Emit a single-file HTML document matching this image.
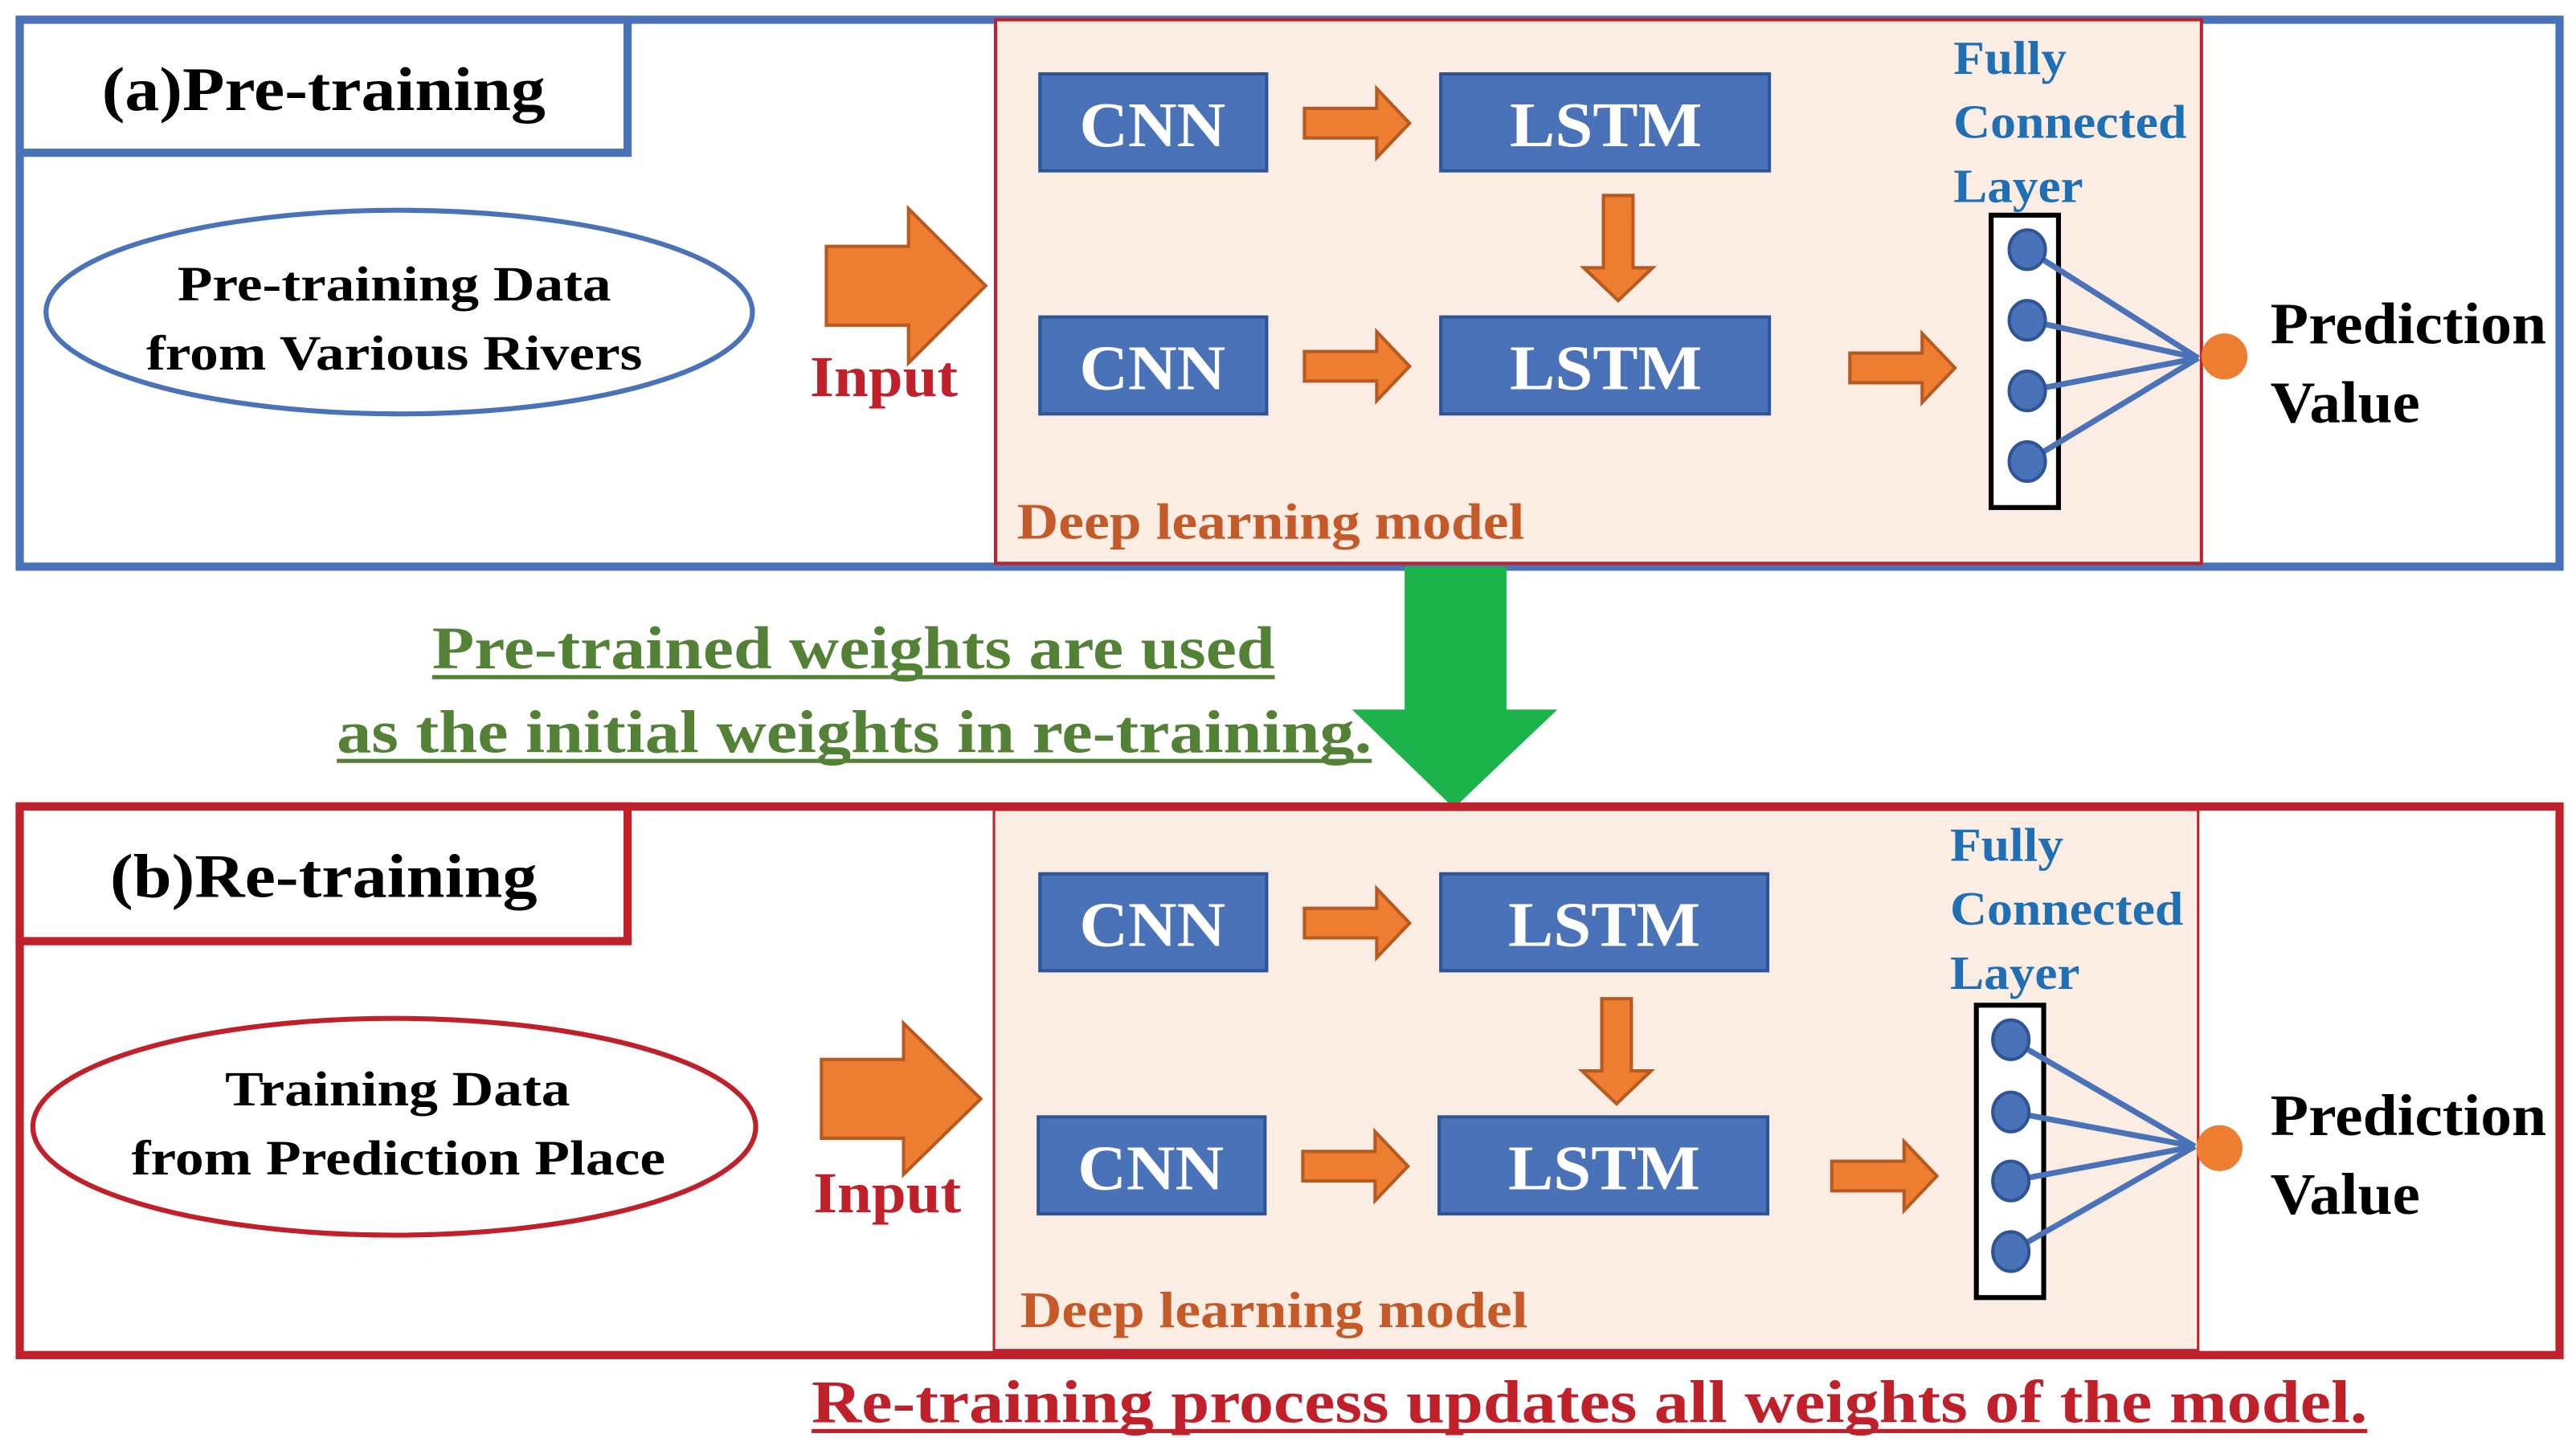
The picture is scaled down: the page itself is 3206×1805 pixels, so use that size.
<!DOCTYPE html>
<html><head><meta charset="utf-8"><style>
html,body{margin:0;padding:0;background:#fff}
svg{display:block}
text{font-family:"Liberation Serif",serif;font-weight:bold}
</style></head><body>
<svg width="3206" height="1805" viewBox="0 0 1568 882.8" xmlns="http://www.w3.org/2000/svg">
<defs>
<g id="rarrow"><polygon points="0,-9 44,-9 44,-21 64,0 44,21 44,9 0,9" fill="#ed7d31" stroke="#b85a20" stroke-width="2"/></g>
</defs>
<!-- ===== TOP ===== -->
<rect x="12" y="12" width="1546" height="333" fill="#fff" stroke="#4a72b8" stroke-width="5"/>
<rect x="606" y="12" width="734" height="331" fill="#fbede3" stroke="#c0202a" stroke-width="2"/>
<rect x="12" y="12" width="370" height="81" fill="#fff" stroke="#4a72b8" stroke-width="5"/>
<text x="62" y="67" font-size="38" textLength="270" lengthAdjust="spacingAndGlyphs">(a)Pre-training</text>
<ellipse cx="243" cy="190" rx="215" ry="62" fill="#fff" stroke="#4a72b8" stroke-width="3"/>
<text x="108" y="183" font-size="30" textLength="264" lengthAdjust="spacingAndGlyphs">Pre-training Data</text>
<text x="89" y="225" font-size="30" textLength="302" lengthAdjust="spacingAndGlyphs">from Various Rivers</text>
<polygon points="503,150 553,150 553,127 600,174 553,221 553,198 503,198" fill="#ed7d31" stroke="#b85a20" stroke-width="2"/>
<text x="493" y="241" font-size="35" fill="#c0202a" textLength="90" lengthAdjust="spacingAndGlyphs">Input</text>
<rect x="633" y="45" width="138" height="59" fill="#4a72b8" stroke="#2f5496" stroke-width="2"/>
<text x="657" y="89" font-size="39" fill="#fff" textLength="89" lengthAdjust="spacingAndGlyphs">CNN</text>
<rect x="633" y="193" width="138" height="59" fill="#4a72b8" stroke="#2f5496" stroke-width="2"/>
<text x="657" y="237" font-size="39" fill="#fff" textLength="89" lengthAdjust="spacingAndGlyphs">CNN</text>
<rect x="877" y="45" width="200" height="59" fill="#4a72b8" stroke="#2f5496" stroke-width="2"/>
<text x="919" y="89" font-size="39" fill="#fff" textLength="117" lengthAdjust="spacingAndGlyphs">LSTM</text>
<rect x="877" y="193" width="200" height="59" fill="#4a72b8" stroke="#2f5496" stroke-width="2"/>
<text x="919" y="237" font-size="39" fill="#fff" textLength="117" lengthAdjust="spacingAndGlyphs">LSTM</text>
<use href="#rarrow" transform="translate(794,75)"/>
<use href="#rarrow" transform="translate(794,223)"/>
<use href="#rarrow" transform="translate(1126,224)"/>
<use href="#rarrow" transform="translate(985,119) rotate(90)"/>
<text x="1189" y="45" font-size="29" fill="#1f6fb5" textLength="69" lengthAdjust="spacingAndGlyphs">Fully</text>
<text x="1189" y="84" font-size="29" fill="#1f6fb5" textLength="142" lengthAdjust="spacingAndGlyphs">Connected</text>
<text x="1189" y="123" font-size="29" fill="#1f6fb5" textLength="79" lengthAdjust="spacingAndGlyphs">Layer</text>
<rect x="1212" y="131" width="41" height="178" fill="#fff" stroke="#000" stroke-width="3"/>
<g stroke="#4a72b8" stroke-width="3.5"><line x1="1234" y1="152" x2="1338" y2="218"/><line x1="1234" y1="195" x2="1338" y2="218"/><line x1="1234" y1="238" x2="1338" y2="218"/><line x1="1234" y1="281" x2="1338" y2="218"/></g>
<g fill="#4a72b8" stroke="#2f5496" stroke-width="2"><ellipse cx="1234" cy="152" rx="11" ry="12"/><ellipse cx="1234" cy="195" rx="11" ry="12"/><ellipse cx="1234" cy="238" rx="11" ry="12"/><ellipse cx="1234" cy="281" rx="11" ry="12"/></g>
<ellipse cx="1354" cy="217" rx="14" ry="14" fill="#ed7d31"/>
<text x="1382" y="209" font-size="36" textLength="168" lengthAdjust="spacingAndGlyphs">Prediction</text>
<text x="1382" y="257" font-size="36" textLength="91" lengthAdjust="spacingAndGlyphs">Value</text>
<text x="619" y="328" font-size="31" fill="#c55a28" textLength="309" lengthAdjust="spacingAndGlyphs">Deep learning model</text>
<!-- green arrow -->
<polygon points="855,345 917,345 917,432 948,432 885,492 823,432 855,432" fill="#1db34b"/>
<g fill="#538135" font-size="37">
<text x="263" y="407" textLength="513" lengthAdjust="spacingAndGlyphs">Pre-trained weights are used</text>
<text x="205" y="458" textLength="630" lengthAdjust="spacingAndGlyphs">as the initial weights in re-training.</text>
</g>
<rect x="263" y="411" width="513" height="2.5" fill="#538135"/>
<rect x="205" y="462" width="630" height="2.5" fill="#538135"/>
<!-- ===== BOTTOM ===== -->
<rect x="12" y="491" width="1546" height="334" fill="none" stroke="#c0202a" stroke-width="5"/>
<rect x="605" y="493" width="733" height="329" fill="#fbede3" stroke="#c0202a" stroke-width="1.5"/>
<rect x="12" y="491" width="370" height="82" fill="#fff" stroke="#c0202a" stroke-width="5"/>
<text x="67" y="546" font-size="38" textLength="260" lengthAdjust="spacingAndGlyphs">(b)Re-training</text>
<ellipse cx="240" cy="686" rx="220" ry="66" fill="#fff" stroke="#c0202a" stroke-width="3"/>
<text x="137" y="673" font-size="30" textLength="210" lengthAdjust="spacingAndGlyphs">Training Data</text>
<text x="80" y="715" font-size="30" textLength="325" lengthAdjust="spacingAndGlyphs">from Prediction Place</text>
<polygon points="500,645 550,645 550,623 597,669 550,715 550,693 500,693" fill="#ed7d31" stroke="#b85a20" stroke-width="2"/>
<text x="495" y="738" font-size="35" fill="#c0202a" textLength="90" lengthAdjust="spacingAndGlyphs">Input</text>
<rect x="633" y="532" width="138" height="59" fill="#4a72b8" stroke="#2f5496" stroke-width="2"/>
<text x="657" y="576" font-size="39" fill="#fff" textLength="89" lengthAdjust="spacingAndGlyphs">CNN</text>
<rect x="632" y="680" width="138" height="59" fill="#4a72b8" stroke="#2f5496" stroke-width="2"/>
<text x="656" y="724" font-size="39" fill="#fff" textLength="89" lengthAdjust="spacingAndGlyphs">CNN</text>
<rect x="877" y="532" width="199" height="59" fill="#4a72b8" stroke="#2f5496" stroke-width="2"/>
<text x="918" y="576" font-size="39" fill="#fff" textLength="117" lengthAdjust="spacingAndGlyphs">LSTM</text>
<rect x="876" y="680" width="200" height="59" fill="#4a72b8" stroke="#2f5496" stroke-width="2"/>
<text x="918" y="724" font-size="39" fill="#fff" textLength="117" lengthAdjust="spacingAndGlyphs">LSTM</text>
<use href="#rarrow" transform="translate(794,562)"/>
<use href="#rarrow" transform="translate(793,710)"/>
<use href="#rarrow" transform="translate(1115,716)"/>
<use href="#rarrow" transform="translate(984,608) rotate(90)"/>
<text x="1187" y="524" font-size="29" fill="#1f6fb5" textLength="69" lengthAdjust="spacingAndGlyphs">Fully</text>
<text x="1187" y="563" font-size="29" fill="#1f6fb5" textLength="142" lengthAdjust="spacingAndGlyphs">Connected</text>
<text x="1187" y="602" font-size="29" fill="#1f6fb5" textLength="79" lengthAdjust="spacingAndGlyphs">Layer</text>
<rect x="1203" y="612" width="41" height="178" fill="#fff" stroke="#000" stroke-width="3"/>
<g stroke="#4a72b8" stroke-width="3.5"><line x1="1224" y1="633" x2="1336" y2="698"/><line x1="1224" y1="677" x2="1336" y2="698"/><line x1="1224" y1="719" x2="1336" y2="698"/><line x1="1224" y1="762" x2="1336" y2="698"/></g>
<g fill="#4a72b8" stroke="#2f5496" stroke-width="2"><ellipse cx="1224" cy="633" rx="11" ry="12"/><ellipse cx="1224" cy="677" rx="11" ry="12"/><ellipse cx="1224" cy="719" rx="11" ry="12"/><ellipse cx="1224" cy="762" rx="11" ry="12"/></g>
<ellipse cx="1351" cy="699" rx="14" ry="14" fill="#ed7d31"/>
<text x="1382" y="691" font-size="36" textLength="168" lengthAdjust="spacingAndGlyphs">Prediction</text>
<text x="1382" y="739" font-size="36" textLength="91" lengthAdjust="spacingAndGlyphs">Value</text>
<text x="621" y="808" font-size="31" fill="#c55a28" textLength="309" lengthAdjust="spacingAndGlyphs">Deep learning model</text>
<text x="494" y="866" font-size="37" fill="#c0202a" textLength="947" lengthAdjust="spacingAndGlyphs">Re-training process updates all weights of the model.</text>
<rect x="494" y="870" width="947" height="2.5" fill="#c0202a"/>
</svg>
</body></html>
